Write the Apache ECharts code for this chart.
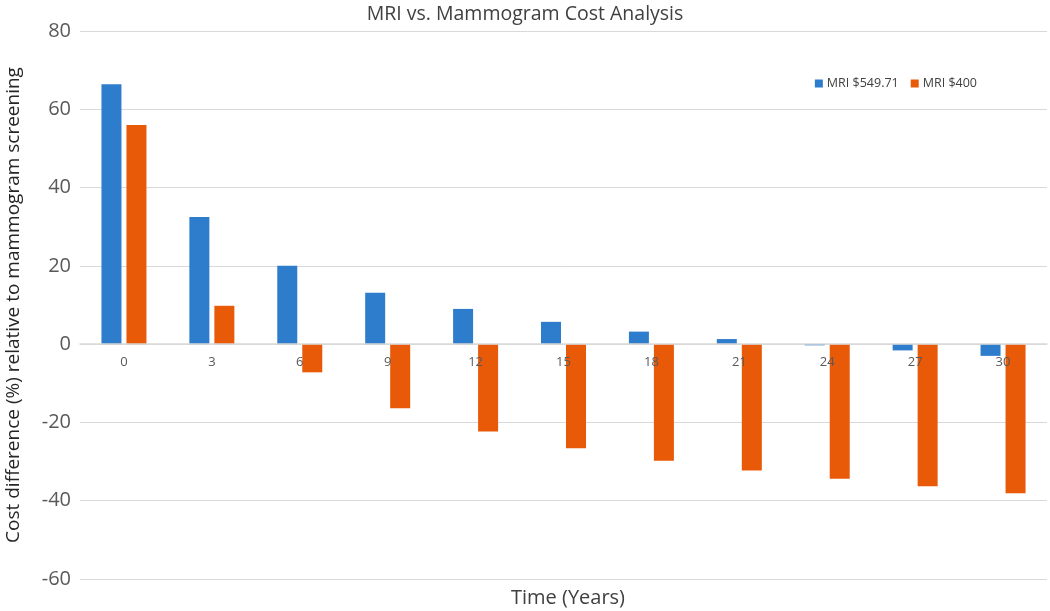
<!DOCTYPE html>
<html><head><meta charset="utf-8">
<script src="https://cdn.jsdelivr.net/npm/echarts@6/dist/echarts.min.js"></script>
<style>html,body{margin:0;padding:0;background:#fff}#c{width:1050px;height:611px}</style>
</head><body><div id="c"></div>
<script>
const categories = ['0','3','6','9','12','15','18','21','24','27','30'];
const mri549 = [66.4, 32.5, 20, 13.1, 9, 5.7, 3.2, 1.3, -0.3, -1.6, -3];
const mri400 = [56, 9.8, -7.2, -16.4, -22.3, -26.6, -29.8, -32.3, -34.4, -36.3, -38.1];
const seriesNames = ['MRI $549.71', 'MRI $400'];
const yTicks = [-60, -40, -20, 0, 20, 40, 60, 80];
const yMin = -60, yMax = 80;

const gridTop = 31, gridBottom = 32, H = 611;
const plotH = H - gridTop - gridBottom;
const zeroOffset = -plotH * (0 - yMin) / (yMax - yMin);

const font = '"Open Sans", "Noto Sans", sans-serif';
const chart = echarts.init(document.getElementById('c'));
chart.setOption({
  animation: false,
  textStyle: { fontFamily: font },
  title: [
    { text: 'MRI vs. Mammogram Cost Analysis', left: 'center', top: -1,
      textStyle: { fontSize: 19.5, fontWeight: 'normal', color: '#404040', fontFamily: font } },
    { text: 'Time (Years)', left: 563, textAlign: 'center', top: 583,
      textStyle: { fontSize: 20, fontWeight: 'normal', color: '#404040', fontFamily: font } }
  ],
  legend: {
    data: seriesNames, right: 68, top: 72, itemWidth: 8, itemHeight: 8, itemGap: 12,
    icon: 'rect',
    textStyle: { fontSize: 12.5, color: '#404040', fontFamily: font, padding: [0, 0, 0, -1] }
  },
  grid: { left: 80, right: 3, top: gridTop, bottom: gridBottom, containLabel: false,
    outerBoundsMode: 'none' },
  xAxis: {
    type: 'category', data: categories, position: 'bottom', offset: zeroOffset, z: 10,
    axisTick: { show: false },
    axisLine: { onZero: false, lineStyle: { color: '#d9d9d9', width: 1.5 } },
    axisLabel: { fontSize: 13, color: '#595959', margin: 12, fontFamily: font }
  },
  yAxis: {
    type: 'value', min: yMin, max: yMax, interval: 20,
    name: 'Cost difference (%) relative to mammogram screening',
    nameLocation: 'middle', nameGap: 57,
    nameTextStyle: { fontSize: 19, color: '#262626', fontFamily: font },
    axisLine: { show: false }, axisTick: { show: false },
    axisLabel: { fontSize: 20, color: '#595959', margin: 9, fontFamily: font,
      formatter: v => yTicks.includes(v) ? String(v) : '' },
    splitLine: { lineStyle: { color: '#d9d9d9', width: 1 } }
  },
  series: [
    { name: seriesNames[0], type: 'bar', data: mri549, barWidth: 20, barGap: '25%',
      itemStyle: { color: '#2e7dcc' } },
    { name: seriesNames[1], type: 'bar', data: mri400, barWidth: 20,
      itemStyle: { color: '#e85a08' } }
  ]
});
</script></body></html>
